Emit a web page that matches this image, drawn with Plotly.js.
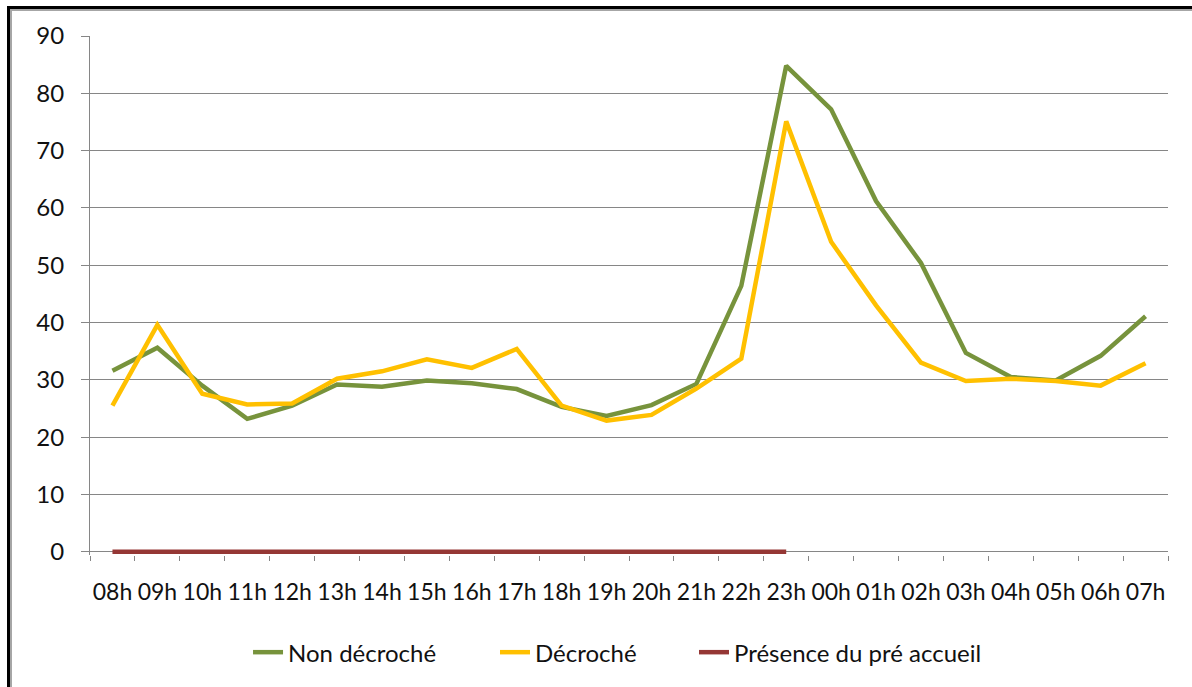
<!DOCTYPE html>
<html>
<head>
<meta charset="utf-8">
<script src="https://cdn.plot.ly/plotly-3.0.1.min.js"></script>
<style>
  html, body { margin: 0; padding: 0; background: #ffffff; overflow: hidden; }
  #chart { width: 1192px; height: 687px; }
  #frame {
    position: absolute; left: 7px; top: 6px; width: 1300px; height: 800px;
    border-left: 3px solid #000; border-top: 3px solid #000;
    box-shadow: inset 2px 2px 0 #a6a6a6;
    pointer-events: none; z-index: 10;
  }
</style>
</head>
<body>
<div id="chart"></div>
<div id="frame"></div>
<script>
const hours = ["08h","09h","10h","11h","12h","13h","14h","15h","16h","17h","18h","19h",
               "20h","21h","22h","23h","00h","01h","02h","03h","04h","05h","06h","07h"];
const nonDecroche = [31.6, 35.6, 29.0, 23.2, 25.5, 29.2, 28.8, 29.9, 29.4, 28.4, 25.3, 23.7,
                     25.6, 29.3, 46.4, 84.8, 77.2, 61.2, 50.4, 34.7, 30.5, 29.9, 34.2, 41.1];
const decroche = [25.5, 39.6, 27.6, 25.7, 25.9, 30.2, 31.5, 33.6, 32.1, 35.4, 25.5, 22.9,
                  23.9, 28.5, 33.7, 75.1, 54.1, 43.0, 33.0, 29.8, 30.2, 29.8, 29.0, 32.9];
const preAccueil = [0, 0, 0, 0, 0, 0, 0, 0, 0, 0, 0, 0, 0, 0, 0, 0,
                    null, null, null, null, null, null, null, null];
const yTicks = [0, 10, 20, 30, 40, 50, 60, 70, 80, 90];

const font = "Lato, 'Open Sans', sans-serif";
const txt = "#111111";
const traces = [
  { x: hours, y: nonDecroche, name: "Non décroché", type: "scatter", mode: "lines",
    line: { color: "#77933C", width: 4.5 }, legend: "legend" },
  { x: hours, y: decroche, name: "Décroché", type: "scatter", mode: "lines",
    line: { color: "#FFC000", width: 4.5 }, legend: "legend2" },
  { x: hours, y: preAccueil, name: "Présence du pré accueil", type: "scatter", mode: "lines",
    line: { color: "#953735", width: 4.5 }, legend: "legend3" }
];

function leg(x) {
  return { orientation: "h", x: x, xanchor: "left", y: -0.188, yanchor: "middle",
           font: { family: font, size: 24, color: txt }, bgcolor: "rgba(0,0,0,0)" };
}

const layout = {
  width: 1192, height: 687,
  margin: { l: 90, r: 24, t: 36, b: 130 },
  paper_bgcolor: "#ffffff", plot_bgcolor: "#ffffff",
  font: { family: font, size: 24, color: txt },
  showlegend: true,
  legend: leg(0.1466),
  legend2: leg(0.3757),
  legend3: leg(0.5603),
  xaxis: {
    type: "category", categoryorder: "array", categoryarray: hours,
    range: [-0.5, 23.5],
    showgrid: false, showline: false, zeroline: false,
    ticks: "outside", tickson: "boundaries", ticklen: 5, tickcolor: "#868686",
    tickangle: 0, ticklabelstandoff: 21,
    tickfont: { family: font, size: 23, color: txt }
  },
  yaxis: {
    range: [-0.55, 90], tickvals: yTicks, ticktext: yTicks.map(String),
    showgrid: true, gridcolor: "#868686", gridwidth: 1,
    showline: true, linecolor: "#868686", linewidth: 1,
    zeroline: true, zerolinecolor: "#868686", zerolinewidth: 1,
    ticks: "outside", ticklen: 8, tickcolor: "#868686",
    ticklabelstandoff: 12,
    tickfont: { family: font, size: 24, color: txt }
  }
};

Plotly.newPlot("chart", traces, layout, { displayModeBar: false, staticPlot: true });
</script>
</body>
</html>
